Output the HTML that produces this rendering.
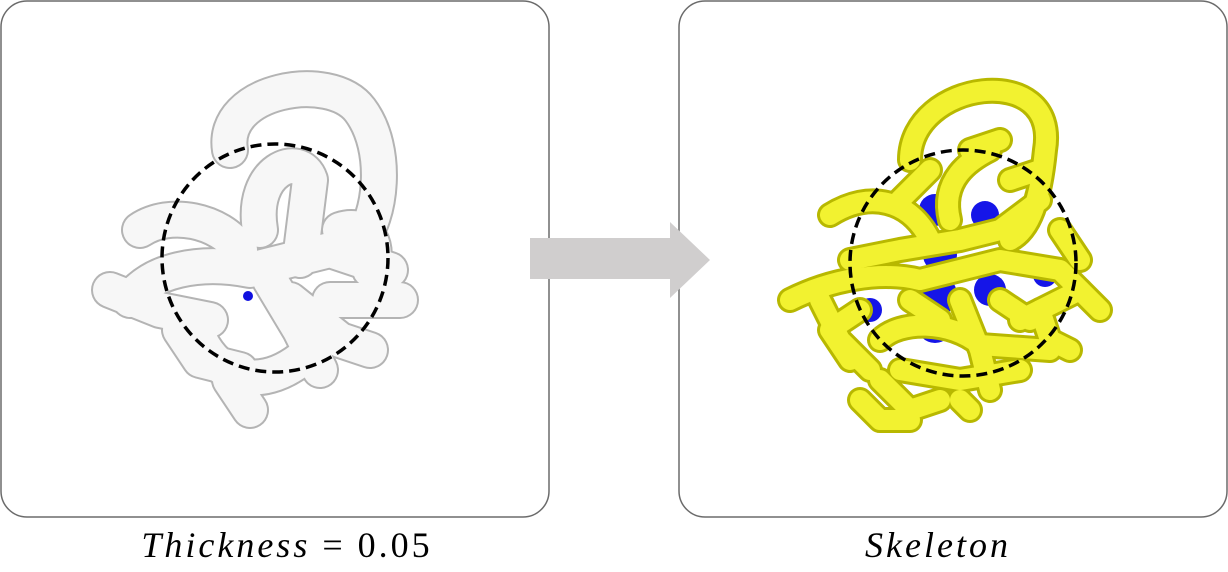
<!DOCTYPE html>
<html><head><meta charset="utf-8"><style>
html,body{margin:0;padding:0;background:#fff;width:1228px;height:572px;overflow:hidden}
svg{display:block}
.cap{font-family:"Liberation Serif",serif;font-style:italic;font-size:36px;letter-spacing:3px;fill:#000}
</style></head><body>
<svg width="1228" height="572" viewBox="0 0 1228 572">
<rect x="1" y="1" width="548" height="516" rx="26" fill="#fff" stroke="#6b6b6b" stroke-width="1.5"/>
<rect x="679" y="1" width="548" height="516" rx="26" fill="#fff" stroke="#6b6b6b" stroke-width="1.5"/>

<g fill="none" stroke-linecap="round" stroke-linejoin="round">
 <g stroke="#b4b4b4" stroke-width="38">
  <path d="M230 150 C220 90 330 70 360 110 C390 150 380 220 360 240"/>
  <path d="M260 230 C250 170 300 150 310 180 L300 260"/>
  <path d="M130 300 C150 270 200 260 250 270 L330 250 L390 270"/>
  <path d="M140 230 C170 210 220 220 240 250"/>
  <path d="M270 280 L300 330 L320 370"/>
  <path d="M200 340 C220 380 260 390 300 360"/>
  <path d="M330 300 L400 300"/>
  <path d="M110 290 L160 310 L210 320"/>
  <path d="M230 380 L250 410"/>
  <path d="M340 230 C370 220 380 250 370 270"/>
  <path d="M180 330 L200 360 L240 370"/>
  <path d="M290 300 L340 340 L370 350"/>
 </g>
 <g stroke="#f7f7f7" stroke-width="34">
  <path d="M230 150 C220 90 330 70 360 110 C390 150 380 220 360 240"/>
  <path d="M260 230 C250 170 300 150 310 180 L300 260"/>
  <path d="M130 300 C150 270 200 260 250 270 L330 250 L390 270"/>
  <path d="M140 230 C170 210 220 220 240 250"/>
  <path d="M270 280 L300 330 L320 370"/>
  <path d="M200 340 C220 380 260 390 300 360"/>
  <path d="M330 300 L400 300"/>
  <path d="M110 290 L160 310 L210 320"/>
  <path d="M230 380 L250 410"/>
  <path d="M340 230 C370 220 380 250 370 270"/>
  <path d="M180 330 L200 360 L240 370"/>
  <path d="M290 300 L340 340 L370 350"/>
 </g>
 <circle cx="248" cy="296" r="5" fill="#1010e0" stroke="none"/>
</g>
<ellipse cx="275" cy="258" rx="113" ry="114" fill="none" stroke="#000" stroke-width="3.5" stroke-dasharray="11,6"/>

<polygon points="530,238 670,238 670,222 710,260 670,298 670,279 530,279" fill="#d0cece"/>

<g fill="none" stroke-linecap="round" stroke-linejoin="round">
 <g fill="#1515e8" stroke="none">
  <circle cx="935" cy="210" r="16"/><circle cx="985" cy="215" r="14"/>
  <circle cx="940" cy="255" r="17"/><circle cx="935" cy="295" r="22"/>
  <circle cx="935" cy="325" r="18"/><circle cx="990" cy="290" r="16"/>
  <circle cx="870" cy="310" r="12"/><circle cx="1045" cy="275" r="12"/>
 </g>
 <g stroke="#b8b800" stroke-width="26">
  <path d="M910 160 C910 80 1060 60 1045 150 C1040 200 1030 230 1010 240"/>
  <path d="M830 215 C870 190 910 200 930 240"/>
  <path d="M790 300 C830 280 880 270 920 280 L1000 260 L1060 270 L1100 310"/>
  <path d="M850 260 L900 250 L960 240 L1000 230 L1040 200"/>
  <path d="M950 220 C940 180 970 160 990 150"/>
  <path d="M880 340 C900 320 950 320 980 345 L1050 350"/>
  <path d="M880 380 L910 410 L940 400"/>
  <path d="M960 300 L980 350 L990 390"/>
  <path d="M860 310 L830 330 L850 360"/>
  <path d="M1020 320 L1060 300 L1080 290"/>
  <path d="M900 200 L930 170"/>
  <path d="M1010 180 L1040 170"/>
  <path d="M900 370 L960 380 L1020 370"/>
  <path d="M820 300 L840 340 L870 370"/>
  <path d="M1040 310 L1050 340 L1070 350"/>
  <path d="M1000 300 L1030 320"/>
  <path d="M910 300 L940 320"/>
  <path d="M860 400 L880 420 L910 420"/>
  <path d="M960 400 L970 410"/>
  <path d="M1060 230 L1080 260"/>
  <path d="M970 150 L1000 140"/>
 </g>
 <g stroke="#f2f230" stroke-width="20">
  <path d="M910 160 C910 80 1060 60 1045 150 C1040 200 1030 230 1010 240"/>
  <path d="M830 215 C870 190 910 200 930 240"/>
  <path d="M790 300 C830 280 880 270 920 280 L1000 260 L1060 270 L1100 310"/>
  <path d="M850 260 L900 250 L960 240 L1000 230 L1040 200"/>
  <path d="M950 220 C940 180 970 160 990 150"/>
  <path d="M880 340 C900 320 950 320 980 345 L1050 350"/>
  <path d="M880 380 L910 410 L940 400"/>
  <path d="M960 300 L980 350 L990 390"/>
  <path d="M860 310 L830 330 L850 360"/>
  <path d="M1020 320 L1060 300 L1080 290"/>
  <path d="M900 200 L930 170"/>
  <path d="M1010 180 L1040 170"/>
  <path d="M900 370 L960 380 L1020 370"/>
  <path d="M820 300 L840 340 L870 370"/>
  <path d="M1040 310 L1050 340 L1070 350"/>
  <path d="M1000 300 L1030 320"/>
  <path d="M910 300 L940 320"/>
  <path d="M860 400 L880 420 L910 420"/>
  <path d="M960 400 L970 410"/>
  <path d="M1060 230 L1080 260"/>
  <path d="M970 150 L1000 140"/>
 </g>
</g>
<ellipse cx="963" cy="263" rx="113" ry="113" fill="none" stroke="#000" stroke-width="3.5" stroke-dasharray="11,6"/>

<text class="cap" x="287" y="557" text-anchor="middle">Thickness <tspan font-style="normal">= 0.05</tspan></text>
<text class="cap" x="938" y="557" text-anchor="middle">Skeleton</text>
</svg>
</body></html>
